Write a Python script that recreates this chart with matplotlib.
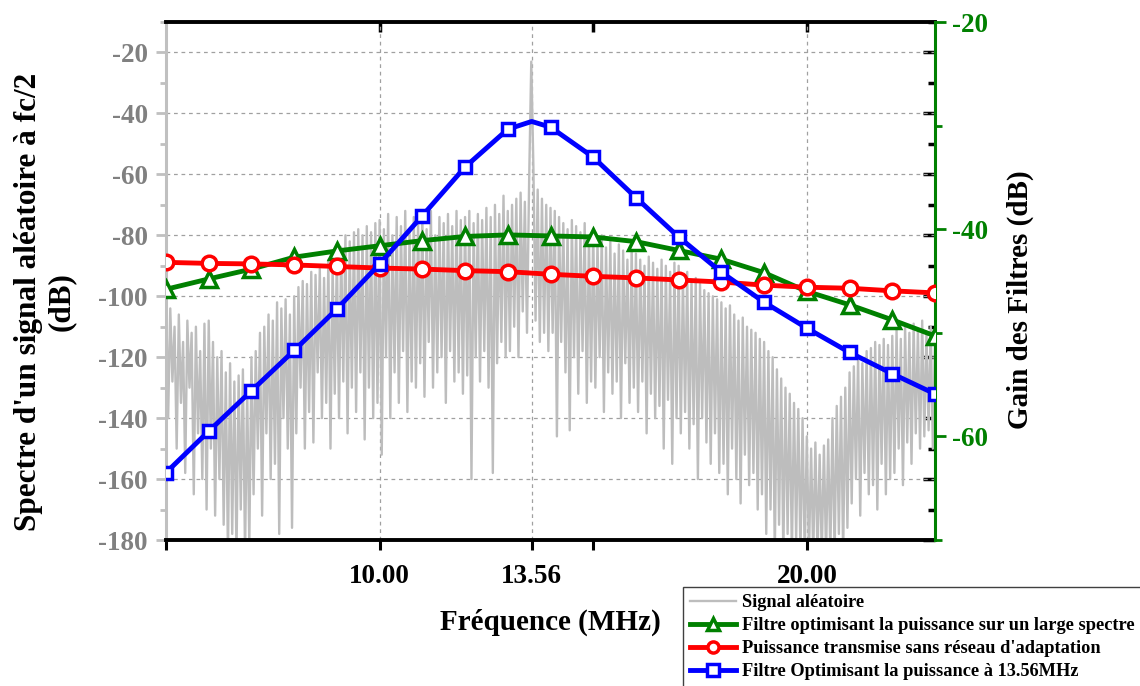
import numpy as np
import matplotlib
matplotlib.use("Agg")
import matplotlib.pyplot as plt
from matplotlib.ticker import MultipleLocator, NullFormatter

plt.rcParams['font.family'] = ['Liberation Serif', 'DejaVu Serif']
plt.rcParams['font.weight'] = 'bold'

# ---------------- data ----------------
filter_freq = [5, 6, 7, 8, 9, 10, 11, 12, 13, 14, 15, 16, 17, 18, 19, 20, 21, 22, 23]
green_gain = [-45.8, -44.8, -43.85, -42.7, -42.1, -41.6, -41.1, -40.7, -40.55, -40.65,
              -40.75, -41.2, -42.05, -42.9, -44.2, -46.0, -47.3, -48.75, -50.3]
red_gain = [-43.2, -43.3, -43.35, -43.45, -43.6, -43.75, -43.85, -44.0, -44.1, -44.35,
            -44.55, -44.7, -44.9, -45.1, -45.4, -45.6, -45.7, -45.95, -46.15]
blue_freq = [5, 6, 7, 8, 9, 10, 11, 12, 13, 13.56, 14, 15, 16, 17, 18, 19, 20, 21, 22, 23]
blue_gain = [-63.5, -59.5, -55.6, -51.7, -47.7, -43.35, -38.7, -34.0, -30.35, -29.6, -30.15,
             -33.05, -36.95, -40.75, -44.15, -47.05, -49.55, -51.9, -53.95, -55.9]
blue_marker_idx = [0, 1, 2, 3, 4, 5, 6, 7, 8, 10, 11, 12, 13, 14, 15, 16, 17, 18, 19]

signal_db = (
    [-97, -140, -104, -128, -110, -150, -106, -135, -115, -158, -108, -130, -112, -165, -110, -145, -118, -160, -109, -170] +
    [-108, -150, -115, -172, -120, -160, -118, -175, -125, -185, -122, -178, -128, -185, -126, -170, -124, -185, -130, -182] +
    [-120, -165, -118, -150, -112, -172, -110, -145, -106, -160, -108, -155, -102, -178, -104, -140, -101, -150, -106, -176] +
    [-100, -145, -97, -130, -95, -150, -96, -138, -92, -148, -93, -125, -91, -140, -94, -135, -88, -150, -90, -132] +
    [-86, -140, -84, -128, -80, -145, -82, -130, -79, -138, -78, -125, -80, -147, -77, -130, -79, -140, -76, -135] +
    [-75, -152, -78, -120, -73, -140, -80, -125, -74, -135, -77, -118, -72, -138, -79, -128, -74, -130, -76, -122] +
    [-73, -133, -78, -115, -72, -130, -80, -125, -74, -120, -76, -135, -73, -118, -77, -128, -72, -125, -75, -132] +
    [-74, -126, -72, -160, -76, -120, -73, -128, -75, -118, -71, -130, -74, -158, -70, -122, -73, -115, -67, -120] +
    [-72, -118, -70, -110, -68, -120, -66, -105, -69, -112, -62, -23, -58, -108, -65, -115, -68, -112, -70, -118] +
    [-71, -112, -72, -146, -74, -115, -76, -125, -78, -144, -75, -120, -77, -132, -79, -118, -76, -135, -80, -128] +
    [-78, -130, -82, -120, -80, -138, -84, -125, -82, -132, -86, -128, -83, -140, -85, -122, -88, -135, -84, -130] +
    [-86, -138, -88, -128, -90, -145, -87, -132, -89, -140, -91, -136, -88, -150, -90, -134, -92, -155, -89, -140] +
    [-90, -145, -93, -138, -92, -150, -95, -142, -94, -160, -96, -140, -98, -148, -99, -155, -100, -145, -101, -158] +
    [-102, -155, -104, -165, -103, -150, -106, -160, -108, -168, -107, -152, -110, -162, -111, -158, -112, -170, -114, -165] +
    [-115, -178, -118, -170, -120, -185, -124, -175, -127, -185, -130, -178, -132, -185, -135, -180, -137, -185, -140, -185] +
    [-146, -185, -150, -185, -148, -185, -152, -185, -149, -185, -147, -185, -140, -185, -136, -178, -133, -185, -130, -176] +
    [-125, -168, -123, -160, -120, -172, -122, -158, -118, -165, -117, -162, -115, -170, -116, -155, -114, -165, -116, -160] +
    [-113, -158, -111, -150, -114, -162, -110, -148, -112, -155, -109, -145, -111, -150, -108, -146, -112, -144, -110, -150] +
    [-115]
)
signal_freq = np.round(5 + 0.05 * np.arange(len(signal_db)), 2)

x_ticks = [5, 10, 13.56, 15, 20]
x_ticklabels = ['', '10.00', '13.56', '', '20.00']
left_ticks = [-20, -40, -60, -80, -100, -120, -140, -160, -180]
right_ticks = [-20, -40, -60]

# ---------------- figure ----------------
GREEN = '#008000'
fig = plt.figure(figsize=(11.4, 6.86), dpi=100)
ax = fig.add_axes([166 / 1140, 1 - 540 / 686, 769 / 1140, 518 / 686])

ax.plot(signal_freq, signal_db, color='#bdbdbd', lw=1.7, zorder=1, label='Signal aléatoire')
ax.set_xlim(5, 23)
ax.set_ylim(-180, -10)

ax.set_xticks(x_ticks)
ax.set_xticklabels(x_ticklabels)
ax.set_yticks(left_ticks)
ax.set_yticklabels([str(t) for t in left_ticks])
ax.yaxis.set_minor_locator(MultipleLocator(10))
ax.tick_params(axis='x', direction='out', length=7, width=2.2, color='black',
               labelsize=19.5, pad=10)
ax.tick_params(axis='y', which='major', direction='out', length=7, width=2,
               color='#c0c0c0', labelcolor='#808080', labelsize=19.5, pad=6)
ax.tick_params(axis='y', which='minor', direction='out', length=4, width=2, color='#c0c0c0')
for lab in ax.get_xticklabels() + ax.get_yticklabels():
    lab.set_fontweight('bold')

ax.spines['left'].set_color('#c0c0c0')
ax.spines['left'].set_linewidth(2.2)
ax.spines['bottom'].set_linewidth(2.8)
ax.spines['top'].set_linewidth(2.8)
ax.spines['right'].set_visible(False)

# grid
for xv in [10, 13.56, 20]:
    ax.axvline(xv, color='#a0a0a0', lw=0.9, ls=(0, (3, 3)), zorder=0.5)
for yv in left_ticks[:-1]:
    ax.axhline(yv, color='#a0a0a0', lw=0.9, ls=(0, (3, 3)), zorder=0.5)

# top inward ticks
sec_top = ax.secondary_xaxis('top')
sec_top.set_xticks([10, 15, 20])
sec_top.xaxis.set_major_formatter(NullFormatter())
sec_top.tick_params(direction='in', length=7, width=2.5, color='black')
sec_top.spines['top'].set_visible(False)

# right inward black ticks (left scale)
sec_r = ax.secondary_yaxis('right')
sec_r.set_yticks(left_ticks)
sec_r.yaxis.set_major_formatter(NullFormatter())
sec_r.yaxis.set_minor_locator(MultipleLocator(10))
sec_r.tick_params(which='major', direction='in', length=9, width=2.5, color='black')
sec_r.tick_params(which='minor', direction='in', length=5, width=2.5, color='black')
sec_r.spines['right'].set_visible(False)

# filter gains on the right (green) axis
ax2 = ax.twinx()
ax2.set_ylim(-70, -20)
ax2.plot(filter_freq, green_gain, color=GREEN, lw=3.5, marker='^', ms=11, mew=2.5,
         mfc='white', mec=GREEN, zorder=3,
         label='Filtre optimisant la puissance sur un large spectre')
ax2.plot(filter_freq, red_gain, color='#ff0000', lw=3.5, marker='o', ms=10.5, mew=2.5,
         mfc='white', mec='#ff0000', zorder=4,
         label="Puissance transmise sans réseau d'adaptation")
ax2.plot(blue_freq, blue_gain, color='#0000ff', lw=3.5, marker='s', ms=9, mew=2.5,
         mfc='white', mec='#0000ff', markevery=blue_marker_idx, zorder=5,
         label='Filtre Optimisant la puissance à 13.56MHz')
ax2.set_xlim(5, 23)
ax2.set_yticks(right_ticks)
ax2.set_yticklabels([str(t) for t in right_ticks])
ax2.yaxis.set_minor_locator(MultipleLocator(10))
ax2.tick_params(axis='y', which='major', direction='out', length=8, width=2,
                color=GREEN, labelcolor=GREEN, labelsize=19.5, pad=4)
ax2.tick_params(axis='y', which='minor', direction='out', length=5, width=2, color=GREEN)
for lab in ax2.get_yticklabels():
    lab.set_fontweight('bold')
ax2.spines['right'].set_color(GREEN)
ax2.spines['right'].set_linewidth(2.2)
for s in ['left', 'top', 'bottom']:
    ax2.spines[s].set_visible(False)

# labels
fig.text(45 / 1140, 1 - 302 / 686, "Spectre d'un signal aléatoire à fc/2\n(dB)",
         rotation=90, ha='center', va='center', multialignment='center',
         fontsize=22.5, fontweight='bold', linespacing=1.2)
fig.text(1020 / 1140, 1 - 300 / 686, 'Gain des Filtres (dB)', rotation=90,
         ha='center', va='center', fontsize=21, fontweight='bold')
fig.text(550 / 1140, 1 - 622 / 686, 'Fréquence (MHz)', ha='center', va='center',
         fontsize=21, fontweight='bold')

# legend
h1, l1 = ax.get_legend_handles_labels()
h2, l2 = ax2.get_legend_handles_labels()
leg = fig.legend(h1 + h2, l1 + l2, loc='upper left',
                 bbox_to_anchor=(683 / 1140, 1 - 587 / 686), bbox_transform=fig.transFigure,
                 numpoints=1, handlelength=2.5, handletextpad=0.3, labelspacing=0.33,
                 borderpad=0.4, borderaxespad=0, fancybox=False, framealpha=1,
                 edgecolor='#404040', prop={'size': 13.2, 'weight': 'bold'})
leg.get_frame().set_linewidth(1.0)
for line in leg.get_lines():
    line.set_markersize(8)

fig.savefig('out.png', dpi=100)
